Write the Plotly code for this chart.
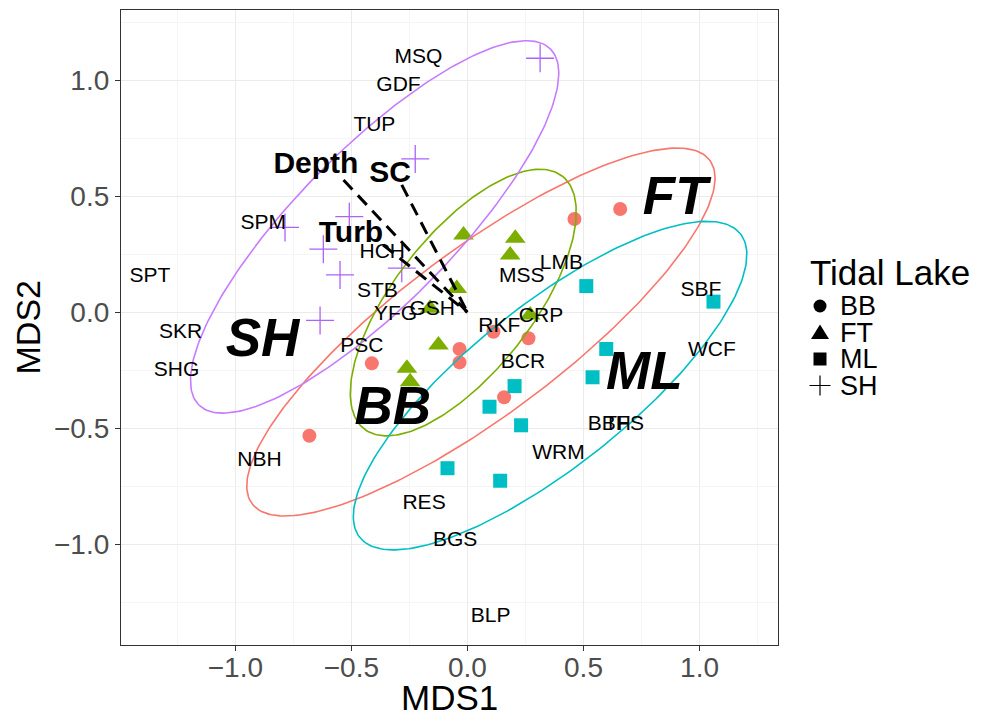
import numpy as np
import plotly.graph_objects as go

# ---------------- data ----------------
bb_x = [0.658, 0.461, -0.681, -0.412, -0.034, -0.034, 0.112, 0.263, 0.158]
bb_y = [0.445, 0.402, -0.532, -0.220, -0.158, -0.216, -0.084, -0.112, -0.366]
ft_x = [-0.017, 0.206, 0.184, -0.046, -0.161, -0.125, -0.261, -0.247, 0.270]
ft_y = [0.333, 0.319, 0.247, 0.103, 0.017, -0.141, -0.241, -0.299, -0.012]
ml_x = [0.512, 1.060, 0.598, 0.539, 0.203, 0.095, 0.231, -0.086, 0.141]
ml_y = [0.113, 0.046, -0.158, -0.280, -0.318, -0.407, -0.487, -0.672, -0.726]
sh_x = [0.313, -0.225, -0.509, -0.786, -0.621, -0.549, -0.283, -0.635]
sh_y = [1.095, 0.661, 0.412, 0.366, 0.272, 0.161, 0.190, -0.035]

# ellipses: group, centre x, centre y, semi-major, semi-minor, angle (deg)
ell_group = ["BB", "FT", "ML", "SH"]
ell_cx = [0.058, -0.018, 0.356, -0.400]
ell_cy = [-0.085, 0.042, -0.316, 0.368]
ell_a = [1.233, 0.692, 1.049, 1.078]
ell_b = [0.355, 0.297, 0.346, 0.334]
ell_ang = [36.9, 51.9, 38.6, 45.4]

# species labels
sp_names = ["MSQ", "GDF", "TUP", "SPM", "SPT", "SKR", "SHG", "HCH", "STB", "YFG",
            "GSH", "PSC", "RKF", "CRP", "MSS", "LMB", "BCR", "SBF", "WCF", "BBH",
            "TFS", "WRM", "RES", "BGS", "BLP", "NBH"]
sp_x = [-0.211, -0.297, -0.401, -0.880, -1.368, -1.236, -1.253, -0.367, -0.388, -0.310,
        -0.152, -0.455, 0.137, 0.317, 0.234, 0.405, 0.239, 1.006, 1.053, 0.611,
        0.675, 0.392, -0.187, -0.053, 0.100, -0.896]
sp_y = [1.096, 0.978, 0.804, 0.383, 0.155, -0.090, -0.252, 0.255, 0.087, -0.010,
        0.011, -0.150, -0.061, -0.018, 0.155, 0.209, -0.216, 0.093, -0.164, -0.484,
        -0.484, -0.609, -0.826, -0.984, -1.314, -0.640]

# environmental vectors
env_names = ["Depth", "SC", "Turb"]
env_x = [-0.534, -0.283, -0.363]
env_y = [0.570, 0.549, 0.290]
env_lab_x = [-0.653, -0.333, -0.502]
env_lab_y = [0.632, 0.596, 0.337]

# group labels
grp_names = ["SH", "BB", "FT", "ML"]
grp_x = [-0.883, -0.322, 0.895, 0.762]
grp_y = [-0.130, -0.425, 0.482, -0.274]

legend_title = "Tidal Lake"
legend_items = ["BB", "FT", "ML", "SH"]

# ---------------- styling ----------------
colors = {"BB": "#F8766D", "FT": "#7CAE00", "ML": "#00BFC4", "SH": "#C77CFF"}
FONT = "Liberation Sans, Arial, Helvetica, sans-serif"

# page body has an 8px margin -> compensate
PW, PH = 657, 635          # plot-area size in px
ML_, MT_ = 113, 2
FIG_W, FIG_H = 992, 708
MR_ = FIG_W - ML_ - PW
MB_ = FIG_H - MT_ - PH

fig = go.Figure()

# points
fig.add_trace(go.Scatter(x=bb_x, y=bb_y, mode="markers", showlegend=False,
                         marker=dict(symbol="circle", size=14, color=colors["BB"])))
fig.add_trace(go.Scatter(x=ft_x, y=ft_y, mode="markers", showlegend=False,
                         marker=dict(symbol="triangle-up", size=18, color=colors["FT"])))
fig.add_trace(go.Scatter(x=ml_x, y=ml_y, mode="markers", showlegend=False,
                         marker=dict(symbol="square", size=14, color=colors["ML"])))
fig.add_trace(go.Scatter(x=sh_x, y=sh_y, mode="markers", showlegend=False,
                         marker=dict(symbol="cross-thin-open", size=20,
                                     line=dict(color="rgba(199,124,255,0.6)", width=1.3))))

# ellipses
t = np.linspace(0, 2 * np.pi, 240)
for g, cx, cy, a, b, ang in zip(ell_group, ell_cx, ell_cy, ell_a, ell_b, ell_ang):
    th = np.deg2rad(ang)
    ex = cx + a * np.cos(t) * np.cos(th) - b * np.sin(t) * np.sin(th)
    ey = cy + a * np.cos(t) * np.sin(th) + b * np.sin(t) * np.cos(th)
    fig.add_trace(go.Scatter(x=ex, y=ey, mode="lines", showlegend=False,
                             line=dict(color=colors[g], width=1.6), hoverinfo="skip"))

# species labels
fig.add_trace(go.Scatter(x=sp_x, y=sp_y, mode="text", text=sp_names, showlegend=False,
                         textposition="middle center",
                         textfont=dict(family=FONT, size=21, color="black")))

# vectors
for ex_, ey_ in zip(env_x, env_y):
    fig.add_trace(go.Scatter(x=[ex_, 0], y=[ey_, 0], mode="lines", showlegend=False,
                             line=dict(color="black", width=3, dash="13px,8px"),
                             hoverinfo="skip"))
fig.add_trace(go.Scatter(x=env_lab_x, y=env_lab_y, mode="text",
                         text=[f"<b>{n}</b>" for n in env_names], showlegend=False,
                         textposition="middle center",
                         textfont=dict(family=FONT, size=30, color="black")))

# group labels
fig.add_trace(go.Scatter(x=grp_x, y=grp_y, mode="text",
                         text=[f"<b><i>{n}</i></b>" for n in grp_names], showlegend=False,
                         textposition="middle center",
                         textfont=dict(family=FONT, size=53, color="black")))


# ---------------- manual legend (paper coords, from reference pixel layout) -----
def px2paper(px, py):
    # px, py are in reference-image pixels; plot area spans x 121..778, y 10..645
    return (px - 121) / PW, (645 - py) / PH


annotations = []
shapes = []
tx, ty = px2paper(808, 272)
annotations.append(dict(x=tx, y=ty, xref="paper", yref="paper", xanchor="left",
                        yanchor="middle", text=legend_title, showarrow=False,
                        font=dict(family=FONT, size=35, color="black")))
item_py = [306, 332.5, 359, 385.5]
sym_px = 820
for name, py in zip(legend_items, item_py):
    lx, ly = px2paper(838, py)
    annotations.append(dict(x=lx, y=ly, xref="paper", yref="paper", xanchor="left",
                            yanchor="middle", text=name, showarrow=False,
                            font=dict(family=FONT, size=27, color="black")))
    cx, cy = px2paper(sym_px, py)
    dx, dy = 1 / PW, 1 / PH
    if name == "BB":
        shapes.append(dict(type="circle", xref="paper", yref="paper",
                           x0=cx - 6.5 * dx, x1=cx + 6.5 * dx, y0=cy - 6.5 * dy, y1=cy + 6.5 * dy,
                           fillcolor="black", line=dict(width=0)))
    elif name == "FT":
        path = (f"M {cx - 9 * dx},{cy - 6.5 * dy} L {cx + 9 * dx},{cy - 6.5 * dy} "
                f"L {cx},{cy + 8 * dy} Z")
        shapes.append(dict(type="path", xref="paper", yref="paper", path=path,
                           fillcolor="black", line=dict(width=0)))
    elif name == "ML":
        shapes.append(dict(type="rect", xref="paper", yref="paper",
                           x0=cx - 6.5 * dx, x1=cx + 6.5 * dx, y0=cy - 6.5 * dy, y1=cy + 6.5 * dy,
                           fillcolor="black", line=dict(width=0)))
    else:
        path = (f"M {cx - 10.5 * dx},{cy} L {cx + 10.5 * dx},{cy} "
                f"M {cx},{cy - 10 * dy} L {cx},{cy + 10 * dy}")
        shapes.append(dict(type="path", xref="paper", yref="paper", path=path,
                           line=dict(color="black", width=1.2)))

# axis titles
annotations.append(dict(x=0.5, y=(645 - 697) / PH, xref="paper", yref="paper",
                        xanchor="center", yanchor="middle", text="MDS1", showarrow=False,
                        font=dict(family=FONT, size=35, color="black")))
annotations.append(dict(x=(27 - 121) / PW, y=0.5, xref="paper", yref="paper",
                        xanchor="center", yanchor="middle", text="MDS2", showarrow=False,
                        textangle=-90, font=dict(family=FONT, size=34, color="black")))

axis_common = dict(
    showgrid=True, gridcolor="#EBEBEB", gridwidth=1.2,
    zeroline=False, showline=True, mirror=True, linecolor="#333333", linewidth=1.2,
    ticks="outside", ticklen=5, tickcolor="#333333", tickwidth=1.2,
    tickfont=dict(family=FONT, size=28, color="#4D4D4D"),
    minor=dict(dtick=0.25, showgrid=True, gridcolor="#F5F5F5", gridwidth=0.8, ticks=""),
    dtick=0.5, tick0=0, tickformat=".1f", automargin=False,
)

fig.update_layout(
    width=FIG_W, height=FIG_H,
    margin=dict(l=ML_, r=MR_, t=MT_, b=MB_),
    paper_bgcolor="white", plot_bgcolor="white",
    font=dict(family=FONT),
    showlegend=False,
    xaxis=dict(range=[-1.4927, 1.338], ticklabelstandoff=-8, **axis_common),
    yaxis=dict(range=[-1.434, 1.303], **axis_common),
    annotations=annotations,
    shapes=shapes,
)

fig.write_html("out.html")
